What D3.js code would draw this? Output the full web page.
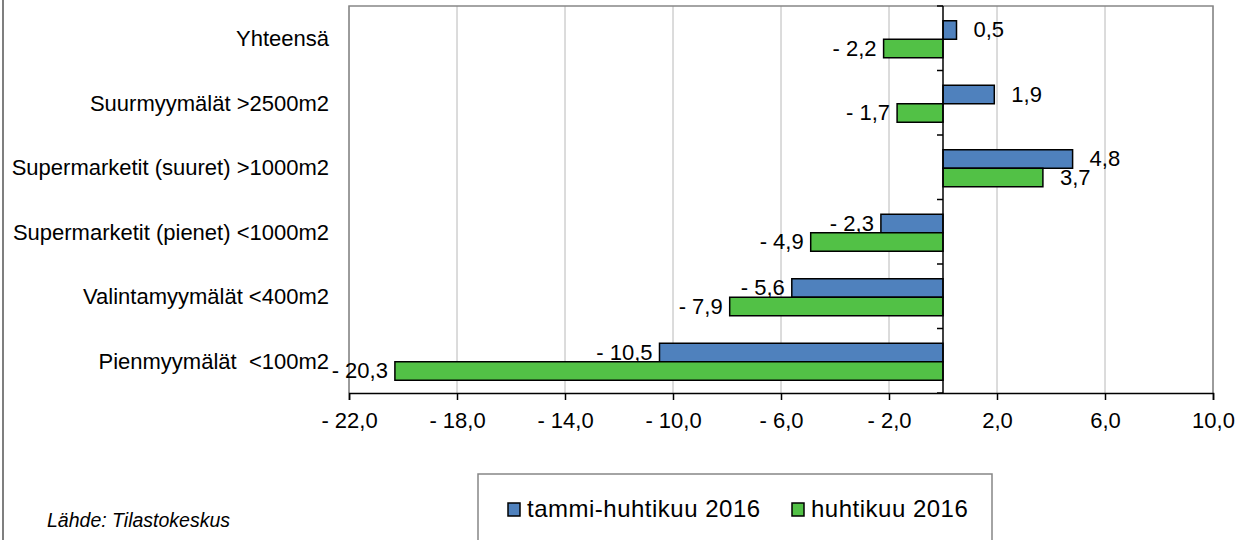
<!DOCTYPE html>
<html>
<head>
<meta charset="utf-8">
<script src="https://cdn.jsdelivr.net/npm/d3@7"></script>
<style>
  body { margin: 0; background: #fff; }
  svg { display: block; font-family: "Liberation Sans", Arial, sans-serif; }
  text { white-space: pre; }
</style>
</head>
<body>
<svg width="1248" height="540"></svg>
<script>
const categories = ['Yhteensä', 'Suurmyymälät >2500m2', 'Supermarketit (suuret) >1000m2',
  'Supermarketit (pienet) <1000m2', 'Valintamyymälät <400m2', 'Pienmyymälät  <100m2']
const seriesNames = ['tammi-huhtikuu 2016', 'huhtikuu 2016']
const tammiHuhti = [0.5, 1.9, 4.8, -2.3, -5.6, -10.5]
const huhti = [-2.2, -1.7, 3.7, -4.9, -7.9, -20.3]
const xTicks = [-22, -18, -14, -10, -6, -2, 2, 6, 10]
const colors = ['#4f81bd', '#52c146']

const width = 1248
const height = 540
const plot = {left: 349, right: 1213, top: 6, bottom: 393}

const svg = d3.select('svg').attr('width', width).attr('height', height)

// 刻度格式: "- 22,0"
const fmt = v => (v < 0 ? '- ' : '') + Math.abs(v).toFixed(1).replace('.', ',')

const x = d3.scaleLinear().domain([-22, 10]).range([plot.left, plot.right])
const y = d3.scaleBand().domain(categories).range([plot.top, plot.bottom]).padding(0)

// 网格线
svg.append('g').selectAll('line').data(xTicks).enter().append('line')
  .attr('x1', d => x(d)).attr('x2', d => x(d))
  .attr('y1', plot.top).attr('y2', plot.bottom)
  .attr('stroke', '#b8b8b8').attr('stroke-width', 1)

// 绘图区边框
svg.append('path')
  .attr('d', `M${plot.left},${plot.bottom}V${plot.top}H${plot.right}V${plot.bottom}`)
  .attr('fill', 'none').attr('stroke', '#868686').attr('stroke-width', 1.5)

// 条形
const barH = 18.5
const series = [tammiHuhti, huhti]
series.forEach((vals, s) => {
  svg.append('g').selectAll('rect').data(vals).enter().append('rect')
    .attr('x', d => x(Math.min(0, d)))
    .attr('width', d => Math.abs(x(d) - x(0)))
    .attr('y', (d, i) => y(categories[i]) + y.bandwidth() / 2 + 1 + (s - 1) * barH)
    .attr('height', barH)
    .attr('fill', colors[s])
    .attr('stroke', '#000').attr('stroke-width', 1.5)

  svg.append('g').selectAll('text').data(vals).enter().append('text')
    .attr('x', d => d >= 0 ? x(d) + 17 : x(d) - 7)
    .attr('y', (d, i) => y(categories[i]) + y.bandwidth() / 2 + 1 + s * barH - 2)
    .attr('text-anchor', d => d >= 0 ? 'start' : 'end')
    .attr('font-size', 22).attr('fill', '#000')
    .text(d => fmt(d))
})

// X 轴
const xAxis = svg.append('g').attr('transform', `translate(0,${plot.bottom})`)
  .call(d3.axisBottom(x).tickValues(xTicks).tickFormat(fmt).tickSize(7).tickPadding(12))
xAxis.select('.domain').attr('stroke', '#000').attr('stroke-width', 1.5)
xAxis.selectAll('.tick line').attr('stroke', '#000').attr('stroke-width', 1.5)
xAxis.selectAll('.tick text').attr('font-size', 22).attr('fill', '#000')
  .attr('font-family', '"Liberation Sans", Arial, sans-serif')

// 零线 (类别轴)
svg.append('line')
  .attr('x1', x(0)).attr('x2', x(0)).attr('y1', plot.top).attr('y2', plot.bottom)
  .attr('stroke', '#000').attr('stroke-width', 1.5)
svg.append('g').selectAll('line').data(d3.range(categories.length + 1)).enter().append('line')
  .attr('x1', x(0) - 6).attr('x2', x(0))
  .attr('y1', i => plot.top + i * y.step()).attr('y2', i => plot.top + i * y.step())
  .attr('stroke', '#000').attr('stroke-width', 1.5)

// 类别标签
svg.append('g').selectAll('text').data(categories).enter().append('text')
  .attr('x', plot.left - 20)
  .attr('y', d => y(d) + y.bandwidth() / 2 + 8)
  .attr('text-anchor', 'end').attr('font-size', 22).attr('fill', '#000')
  .text(d => d)

// 外框左线
svg.append('line').attr('x1', 3).attr('x2', 3).attr('y1', 0).attr('y2', height)
  .attr('stroke', '#555').attr('stroke-width', 1.5)

// 图例
svg.append('rect').attr('x', 478).attr('y', 474).attr('width', 514).attr('height', 80)
  .attr('fill', '#fff').attr('stroke', '#868686').attr('stroke-width', 1.5)
const legendX = [508, 792]
seriesNames.forEach((name, s) => {
  svg.append('rect').attr('x', legendX[s]).attr('y', 503).attr('width', 12).attr('height', 13)
    .attr('fill', colors[s]).attr('stroke', '#000').attr('stroke-width', 1.5)
  svg.append('text').attr('x', legendX[s] + 19).attr('y', 517)
    .attr('font-size', 24).attr('letter-spacing', 0.5).attr('fill', '#000')
    .text(name)
})

// 来源
svg.append('text').attr('x', 47).attr('y', 527)
  .attr('font-size', 19.5).attr('font-style', 'italic').attr('fill', '#000')
  .text('Lähde: Tilastokeskus')
</script>
</body>
</html>
